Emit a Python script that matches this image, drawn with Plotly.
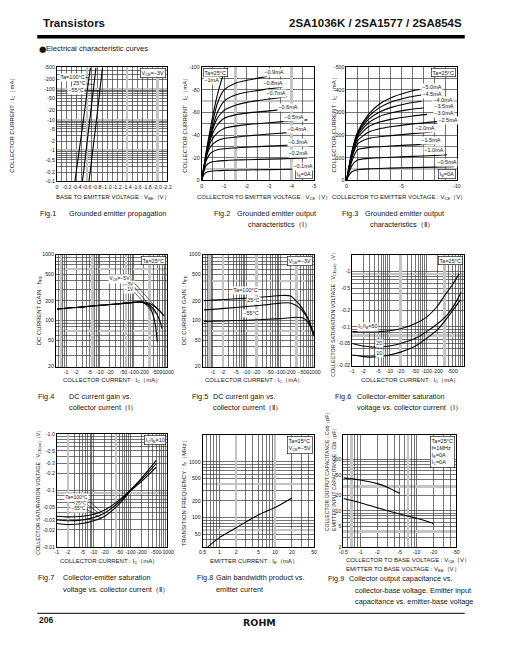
import math
import plotly.graph_objects as go

W, H = 505, 649
FONT = "Liberation Sans"
INK = "#151515"
GRID = "#3a3a3a"
GRAY = "#c4c4c4"

# ---------------- data (magnitudes; minus signs live in tick text) ----------------
# Fig.1 grounded emitter propagation
fig1_ic = [0.1, 1, 10, 100, 500]
fig1_vbe_100 = [0.36, 0.45, 0.53, 0.61, 0.67]
fig1_vbe_25 = [0.51, 0.58, 0.66, 0.73, 0.78]
fig1_vbe_m55 = [0.64, 0.72, 0.79, 0.86, 0.91]
fig1_x_vals = [0, 0.2, 0.4, 0.6, 0.8, 1.0, 1.2, 1.4, 1.6, 1.8, 2.0, 2.2]
fig1_x_text = ["0", "-0.2", "-0.4", "-0.6", "-0.8", "-1.0", "-1.2", "-1.4", "-1.6", "-1.8", "-2.0", "-2.2"]
fig1_y_vals = [0.1, 0.2, 0.5, 1, 2, 5, 10, 20, 50, 100, 200, 500]
fig1_y_text = ["-0.1", "-0.2", "-0.5", "-1", "-2", "-5", "-10", "-20", "-50", "-100", "-200", "-500"]

# Fig.2 output characteristics (I)
fig2_vce_lo = [0, 0.1, 0.2, 0.4, 0.7, 1.0, 1.5, 2.0, 3.0, 4.0, 4.7]
fig2_ic_b01 = [0, 5, 7, 8, 8.5, 8.8, 9, 9.2, 9.5, 9.8, 10]
fig2_ic_b02 = [0, 8, 13, 16, 17, 17.5, 18, 18.3, 18.8, 19.3, 19.8]
fig2_ic_b03 = [0, 9, 17, 24, 27, 28, 28.7, 29.3, 30.3, 31.3, 32]
fig2_ic_b04 = [0, 10, 20, 30, 35, 37, 38.3, 39.3, 41, 42.5, 43.5]
fig2_ic_b05 = [0, 10, 21, 34, 42, 46, 48, 49.3, 51, 52.5, 53.5]
fig2_vce_b06 = [0, 0.1, 0.2, 0.4, 0.7, 1.0, 1.5, 2.0, 3.0, 4.3]
fig2_ic_b06 = [0, 11, 22, 37, 49, 55, 58, 59.5, 61.5, 64]
fig2_vce_b07 = [0, 0.1, 0.2, 0.4, 0.7, 1.0, 1.5, 2.0, 3.0, 3.8]
fig2_ic_b07 = [0, 11, 22, 39, 55, 62, 66.5, 69, 72, 74]
fig2_vce_b08 = [0, 0.1, 0.2, 0.4, 0.7, 1.0, 1.5, 2.0, 3.0, 3.6]
fig2_ic_b08 = [0, 11, 22, 40, 60, 70, 75.5, 78, 81, 82.5]
fig2_vce_b09 = [0, 0.1, 0.2, 0.4, 0.7, 1.0, 1.5, 2.0, 2.5, 2.9]
fig2_ic_b09 = [0, 11, 23, 43, 68, 80, 86, 88.5, 90.5, 92]
fig2_vce_b10 = [0, 0.1, 0.2, 0.4, 0.6, 0.8, 1.0, 1.2]
fig2_ic_b10 = [0, 12, 25, 47, 67, 83, 95, 101]
fig2_x_vals = [0, 1, 2, 3, 4, 5]
fig2_x_text = ["0", "-1", "-2", "-3", "-4", "-5"]
fig2_y_vals = [0, 20, 40, 60, 80, 100]
fig2_y_text = ["0", "-20", "-40", "-60", "-80", "-100"]
fig2_labels = ["−0.9mA", "−1mA", "−0.8mA", "−0.7mA", "−0.6mA", "−0.5mA",
               "−0.4mA", "−0.3mA", "−0.2mA", "−0.1mA"]

# Fig.3 output characteristics (II)
fig3_vce_05 = [0, 0.2, 0.5, 1, 2, 4, 6, 8, 9.7]
fig3_ic_05 = [0, 20, 38, 47, 51, 54, 56.5, 58.5, 60]
fig3_vce_10 = [0, 0.2, 0.5, 1, 2, 4, 6, 8, 9.1]
fig3_ic_10 = [0, 30, 65, 90, 97, 102, 106, 110, 113]
fig3_vce_15 = [0, 0.2, 0.5, 1, 2, 4, 6, 8, 8.4]
fig3_ic_15 = [0, 35, 85, 135, 145, 152, 157, 162, 164]
fig3_vce_20 = [0, 0.2, 0.5, 1, 2, 4, 6, 7.8]
fig3_ic_20 = [0, 40, 100, 160, 185, 198, 207, 214]
fig3_vce_25 = [0, 0.2, 0.5, 1, 2, 3, 4, 6, 8.2]
fig3_ic_25 = [0, 42, 108, 175, 213, 228, 237, 250, 260]
fig3_vce_30 = [0, 0.2, 0.5, 1, 2, 3, 4, 6, 7.3]
fig3_ic_30 = [0, 45, 114, 188, 237, 258, 270, 285, 292]
fig3_vce_35 = [0, 0.2, 0.5, 1, 2, 3, 4, 5.5, 7.0]
fig3_ic_35 = [0, 46, 118, 196, 255, 283, 298, 312, 320]
fig3_vce_40 = [0, 0.2, 0.5, 1, 2, 3, 4, 5.5, 6.8]
fig3_ic_40 = [0, 48, 122, 203, 270, 303, 322, 340, 350]
fig3_vce_45 = [0, 0.2, 0.5, 1, 2, 3, 4, 5.5, 6.8]
fig3_ic_45 = [0, 49, 125, 208, 282, 322, 346, 367, 378]
fig3_vce_50 = [0, 0.2, 0.5, 1, 2, 3, 4, 5.5, 6.6]
fig3_ic_50 = [0, 50, 128, 212, 292, 338, 365, 390, 402]
fig3_x_vals = [0, 5, 10]
fig3_x_text = ["0", "-5", "-10"]
fig3_y_vals = [0, 100, 200, 300, 400, 500]
fig3_y_text = ["0", "-100", "-200", "-300", "-400", "-500"]
fig3_labels = ["−5.0mA", "−4.5mA", "−4.0mA", "−3.5mA", "−3.0mA", "−2.5mA",
               "−2.0mA", "−1.5mA", "−1.0mA", "−0.5mA"]

# Fig.4 DC current gain (I)
fig4_ic_5v = [0.55, 1, 2, 5, 10, 20, 50, 100, 150, 200, 300, 400, 600, 800]
fig4_hfe_5v = [150, 154, 158, 165, 170, 175, 182, 189, 192, 191, 182, 168, 140, 117]
fig4_ic_3v = [0.55, 1, 2, 5, 10, 20, 50, 100, 150, 200, 300, 400, 500, 600, 700]
fig4_hfe_3v = [150, 154, 158, 165, 170, 175, 182, 189, 192, 188, 172, 148, 122, 98, 75]
fig4_ic_1v = [0.55, 1, 2, 5, 10, 20, 50, 100, 150, 200, 300, 400, 450, 500]
fig4_hfe_1v = [150, 154, 158, 165, 170, 175, 182, 189, 191, 185, 160, 110, 80, 48]

# Fig.5 DC current gain (II)
fig5_ic_100 = [0.55, 1, 5, 10, 50, 100, 200, 350, 500, 700, 970]
fig5_hfe_100 = [200, 204, 214, 219, 232, 240, 236, 180, 140, 100, 58]
fig5_ic_25 = [0.55, 1, 5, 10, 50, 100, 200, 350, 500, 700, 970]
fig5_hfe_25 = [145, 148, 158, 163, 176, 184, 185, 160, 132, 100, 62]
fig5_ic_m55 = [0.55, 1, 10, 100, 300, 450, 600, 800, 960]
fig5_hfe_m55 = [97, 98, 101, 107, 112, 110, 100, 80, 65]

gain_x_vals = [1, 2, 5, 10, 20, 50, 100, 200, 500, 1000]
gain_x_text = ["-1", "-2", "-5", "-10", "-20", "-50", "-100", "-200", "-500", "-1000"]
gain_y_vals = [20, 50, 100, 200, 500, 1000]
gain_y_text = ["20", "50", "100", "200", "500", "1000"]

# Fig.6 Vce(sat) vs Ic (I)
fig6_ic_50 = [1, 2, 5, 10, 20, 50, 100, 200, 300, 500, 750]
fig6_v_50 = [0.082, 0.081, 0.082, 0.085, 0.092, 0.115, 0.15, 0.24, 0.36, 0.58, 0.9]
fig6_ic_20 = [1, 2, 4, 10, 20, 50, 100, 200, 360, 600, 850]
fig6_v_20 = [0.05, 0.045, 0.043, 0.045, 0.05, 0.062, 0.082, 0.115, 0.165, 0.27, 0.42]
fig6_ic_10 = [1, 2, 3, 5, 10, 20, 50, 100, 200, 400, 820]
fig6_v_10 = [0.031, 0.029, 0.0285, 0.029, 0.031, 0.035, 0.045, 0.062, 0.09, 0.16, 0.31]
fig6_x_vals = [1, 2, 5, 10, 20, 50, 100, 200, 500]
fig6_x_text = ["-1", "-2", "-5", "-10", "-20", "-50", "-100", "-200", "-500"]
fig6_y_vals = [0.02, 0.05, 0.1, 0.2, 0.5, 1]
fig6_y_text = ["-0.02", "-0.05", "-0.1", "-0.2", "-0.5", "-1"]

# Fig.7 Vce(sat) vs Ic (II)
fig7_ic = [1, 2, 5, 10, 20, 50, 100, 200, 500]
fig7_v_100 = [0.035, 0.034, 0.035, 0.038, 0.045, 0.068, 0.102, 0.165, 0.34]
fig7_v_25 = [0.030, 0.029, 0.030, 0.033, 0.040, 0.063, 0.100, 0.155, 0.30]
fig7_v_m55 = [0.026, 0.025, 0.026, 0.029, 0.035, 0.058, 0.098, 0.145, 0.26]
fig7_x_vals = [1, 2, 5, 10, 20, 50, 100, 200, 500, 1000]
fig7_x_text = ["-1", "-2", "-5", "-10", "-20", "-50", "-100", "-200", "-500", "-1000"]
fig7_y_vals = [0.01, 0.02, 0.03, 0.05, 0.1, 0.2, 0.3, 0.5, 1]
fig7_y_text = ["-0.01", "-0.02", "-0.03", "-0.05", "-0.1", "-0.2", "-0.3", "-0.5", "-1.0"]

# Fig.8 gain bandwidth product
fig8_ie = [0.62, 1, 2, 5, 10, 20]
fig8_ft = [30, 44, 66, 112, 152, 225]
fig8_x_vals = [0.5, 1, 2, 5, 10, 20, 50]
fig8_x_text = ["0.5", "1", "2", "5", "10", "20", "50"]
fig8_y_vals = [50, 100, 200, 500, 1000]
fig8_y_text = ["50", "100", "200", "500", "1000"]

# Fig.9 capacitances
fig9_veb = [0.5, 1, 2, 3, 5]
fig9_cib = [44, 40, 34, 29, 22]
fig9_vcb = [0.5, 1, 2, 5, 10, 20]
fig9_cob = [17.5, 14.5, 11.5, 8.7, 7.2, 5.7]
fig9_x_vals = [0.5, 1, 2, 5, 10, 20, 50]
fig9_x_text = ["-0.5", "-1", "-2", "-5", "-10", "-20", "-50"]
fig9_y_vals = [2, 5, 10, 20, 50, 100]
fig9_y_text = ["2", "5", "10", "20", "50", "100"]


# ---------------- helpers ----------------
def lin_grid(a, b, step):
    n = int(round((b - a) / step))
    return [round(a + i * step, 6) for i in range(n + 1)]


def log_grid(lo, hi):
    out = []
    e = math.floor(math.log10(lo) + 1e-9)
    while 10 ** e <= hi * 1.0001:
        for m in range(1, 10):
            v = float(f"{m * 10 ** e:.6g}")
            if lo * 0.9999 <= v <= hi * 1.0001:
                out.append(v)
        e += 1
    return out


def xn(k):
    return "x" if k == 1 else f"x{k}"


def yn(k):
    return "y" if k == 1 else f"y{k}"


def xkey(k):
    return "xaxis" if k == 1 else f"xaxis{k}"


def ykey(k):
    return "yaxis" if k == 1 else f"yaxis{k}"


PANELS = {
    1: dict(box=(54, 65, 167, 180), xt="linear", yt="log", xr=(0, 2.2), yr=(0.1, 500),
            xg=lin_grid(0, 2.2, 0.1), yg=log_grid(0.1, 500), xgray=[0.6, 1.4, 2.0], ygray=[1, 10, 100],
            xl=(fig1_x_vals, fig1_x_text), yl=(fig1_y_vals, fig1_y_text)),
    2: dict(box=(202, 65, 317, 179), xt="linear", yt="linear", xr=(0, 5), yr=(0, 100),
            xg=lin_grid(0, 5, 0.5), yg=lin_grid(0, 100, 10), xgray=[1.5, 4.0], ygray=[10, 70],
            xl=(fig2_x_vals, fig2_x_text), yl=(fig2_y_vals, fig2_y_text)),
    3: dict(box=(350, 65, 463, 179), xt="linear", yt="linear", xr=(0, 10), yr=(0, 500),
            xg=lin_grid(0, 10, 1), yg=lin_grid(0, 500, 50), xgray=[], ygray=[50, 350],
            xl=(fig3_x_vals, fig3_x_text), yl=(fig3_y_vals, fig3_y_text)),
    4: dict(box=(53, 254, 167, 367), xt="log", yt="log", xr=(0.5, 1000), yr=(20, 1000),
            xg=log_grid(0.5, 1000), yg=log_grid(20, 1000), xgray=[0.7, 6, 60, 300], ygray=[70, 600],
            xl=(gain_x_vals, gain_x_text), yl=(gain_y_vals, gain_y_text)),
    5: dict(box=(203, 254, 317, 367), xt="log", yt="log", xr=(0.5, 1000), yr=(20, 1000),
            xg=log_grid(0.5, 1000), yg=log_grid(20, 1000), xgray=[0.8, 2, 20, 300], ygray=[70, 400],
            xl=(gain_x_vals, gain_x_text), yl=(gain_y_vals, gain_y_text)),
    6: dict(box=(356, 254, 470, 366), xt="log", yt="log", xr=(1, 1000), yr=(0.02, 2),
            xg=log_grid(1, 1000), yg=log_grid(0.02, 1), xgray=[20, 300], ygray=[0.07, 0.9],
            xl=(fig6_x_vals, fig6_x_text), yl=(fig6_y_vals, fig6_y_text)),
    7: dict(box=(54, 435, 167, 549), xt="log", yt="log", xr=(1, 1000), yr=(0.01, 1),
            xg=log_grid(1, 1000), yg=log_grid(0.01, 1), xgray=[2, 40], ygray=[0.09],
            xl=(fig7_x_vals, fig7_x_text), yl=(fig7_y_vals, fig7_y_text)),
    8: dict(box=(203, 436, 317, 549), xt="log", yt="log", xr=(0.5, 50), yr=(30, 3000),
            xg=log_grid(0.5, 50), yg=log_grid(30, 1000), xgray=[2, 10], ygray=[60, 400],
            xl=(fig8_x_vals, fig8_x_text), yl=(fig8_y_vals, fig8_y_text)),
    9: dict(box=(347, 436, 462, 549), xt="log", yt="log", xr=(0.5, 50), yr=(2, 300),
            xg=log_grid(0.5, 50), yg=log_grid(2, 100), xgray=[0.7, 7], ygray=[4, 30],
            xl=(fig9_x_vals, fig9_x_text), yl=(fig9_y_vals, fig9_y_text)),
}


def rng(p, ax):
    lo, hi = p[ax + "r"]
    if p[ax + "t"] == "log":
        return [math.log10(lo), math.log10(hi)]
    return [lo, hi]


def key(v):
    return round(v, 9)


fig = go.Figure()
layout = dict(width=W, height=H, margin=dict(l=0, r=0, t=0, b=0), autosize=False,
              paper_bgcolor="white", plot_bgcolor="white", showlegend=False,
              font=dict(family=FONT, color=INK, size=6))

tickfont = dict(family=FONT, size=5.2, color=INK)

for k, p in PANELS.items():
    l, t, r, b = p["box"]
    xdom = [l / W, r / W]
    ydom = [1 - b / H, 1 - t / H]
    common = dict(tickmode="array", ticks="", tickangle=0, showgrid=True, gridcolor=GRID,
                  gridwidth=0.7, zeroline=False, showline=True, mirror=True, linecolor="black",
                  linewidth=1, tickfont=tickfont, fixedrange=True)
    # base axes: labelled positions
    layout[xkey(k)] = dict(domain=xdom, type=p["xt"], range=rng(p, "x"), anchor=yn(k),
                           tickvals=p["xl"][0], ticktext=p["xl"][1], **common)
    layout[ykey(k)] = dict(domain=ydom, type=p["yt"], range=rng(p, "y"), anchor=xn(k),
                           tickvals=p["yl"][0], ticktext=p["yl"][1], **common)
    # gray highlight grid lines (overlay axes)
    gx, gy = 9 + k, 18 + k
    gcommon = dict(tickmode="array", showticklabels=False, ticks="", showgrid=True,
                   gridcolor=GRAY, gridwidth=2.4, zeroline=False, showline=False, fixedrange=True)
    layout[xkey(gx)] = dict(type=p["xt"], range=rng(p, "x"), overlaying=xn(k), anchor=yn(k),
                            tickvals=p["xgray"], **gcommon)
    layout[ykey(gy)] = dict(type=p["yt"], range=rng(p, "y"), overlaying=yn(k), anchor=xn(k),
                            tickvals=p["ygray"], **gcommon)
    fig.add_trace(go.Scatter(x=[], y=[], xaxis=xn(gx), yaxis=yn(k), hoverinfo="skip"))
    fig.add_trace(go.Scatter(x=[], y=[], xaxis=xn(k), yaxis=yn(gy), hoverinfo="skip"))
    # remaining black grid lines (unlabelled, not gray)
    skip_x = {key(v) for v in p["xl"][0]} | {key(v) for v in p["xgray"]}
    skip_y = {key(v) for v in p["yl"][0]} | {key(v) for v in p["ygray"]}
    bx_vals = [v for v in p["xg"] if key(v) not in skip_x]
    by_vals = [v for v in p["yg"] if key(v) not in skip_y]
    bx, by = 27 + k, 36 + k
    bcommon = dict(tickmode="array", showticklabels=False, ticks="", showgrid=True,
                   gridcolor=GRID, gridwidth=0.7, zeroline=False, showline=False, fixedrange=True)
    layout[xkey(bx)] = dict(type=p["xt"], range=rng(p, "x"), overlaying=xn(k), anchor=yn(k),
                            tickvals=bx_vals, **bcommon)
    layout[ykey(by)] = dict(type=p["yt"], range=rng(p, "y"), overlaying=yn(k), anchor=xn(k),
                            tickvals=by_vals, **bcommon)
    fig.add_trace(go.Scatter(x=[], y=[], xaxis=xn(bx), yaxis=yn(k), hoverinfo="skip"))
    fig.add_trace(go.Scatter(x=[], y=[], xaxis=xn(k), yaxis=yn(by), hoverinfo="skip"))


def curve(k, xs, ys, spline=True):
    line = dict(color="black", width=1.1)
    if spline:
        line.update(shape="spline", smoothing=0.7)
    fig.add_trace(go.Scatter(x=xs, y=ys, mode="lines", line=line, xaxis=xn(k), yaxis=yn(k),
                             hoverinfo="skip"))


# Fig.1
curve(1, fig1_vbe_100, fig1_ic, spline=False)
curve(1, fig1_vbe_25, fig1_ic, spline=False)
curve(1, fig1_vbe_m55, fig1_ic, spline=False)
# Fig.2
for ic in [fig2_ic_b01, fig2_ic_b02, fig2_ic_b03, fig2_ic_b04, fig2_ic_b05]:
    curve(2, fig2_vce_lo, ic)
curve(2, fig2_vce_b06, fig2_ic_b06)
curve(2, fig2_vce_b07, fig2_ic_b07)
curve(2, fig2_vce_b08, fig2_ic_b08)
curve(2, fig2_vce_b09, fig2_ic_b09)
curve(2, fig2_vce_b10, fig2_ic_b10)
# Fig.3
for vx, iy in [(fig3_vce_05, fig3_ic_05), (fig3_vce_10, fig3_ic_10), (fig3_vce_15, fig3_ic_15),
               (fig3_vce_20, fig3_ic_20), (fig3_vce_25, fig3_ic_25), (fig3_vce_30, fig3_ic_30),
               (fig3_vce_35, fig3_ic_35), (fig3_vce_40, fig3_ic_40), (fig3_vce_45, fig3_ic_45),
               (fig3_vce_50, fig3_ic_50)]:
    curve(3, vx, iy)
# Fig.4
curve(4, fig4_ic_5v, fig4_hfe_5v)
curve(4, fig4_ic_3v, fig4_hfe_3v)
curve(4, fig4_ic_1v, fig4_hfe_1v)
# Fig.5
curve(5, fig5_ic_100, fig5_hfe_100)
curve(5, fig5_ic_25, fig5_hfe_25)
curve(5, fig5_ic_m55, fig5_hfe_m55)
# Fig.6
curve(6, fig6_ic_50, fig6_v_50)
curve(6, fig6_ic_20, fig6_v_20)
curve(6, fig6_ic_10, fig6_v_10)
# Fig.7
curve(7, fig7_ic, fig7_v_100)
curve(7, fig7_ic, fig7_v_25)
curve(7, fig7_ic, fig7_v_m55)
# Fig.8
curve(8, fig8_ie, fig8_ft)
# Fig.9
curve(9, fig9_veb, fig9_cib)
curve(9, fig9_vcb, fig9_cob)

# ---------------- annotations ----------------
ann = []
shapes = []


def txt(px, py, s, size=5.5, xa="center", ya="middle", bg=None, border=False, angle=0,
        align="left", family=FONT):
    a = dict(x=px / W, y=1 - py / H, xref="paper", yref="paper", text=s, showarrow=False,
             xanchor=xa, yanchor=ya, textangle=angle, align=align,
             font=dict(family=family, size=size, color=INK))
    if bg:
        a["bgcolor"] = bg
        a["borderpad"] = 0.3
    if border:
        a["bgcolor"] = "white"
        a["bordercolor"] = "black"
        a["borderwidth"] = 0.6
        a["borderpad"] = 1
    ann.append(a)


def to_px(k, xv, yv):
    p = PANELS[k]
    l, t, r, b = p["box"]
    xr, yr = rng(p, "x"), rng(p, "y")
    xx = math.log10(xv) if p["xt"] == "log" else xv
    yy = math.log10(yv) if p["yt"] == "log" else yv
    px = l + (xx - xr[0]) / (xr[1] - xr[0]) * (r - l)
    py = b - (yy - yr[0]) / (yr[1] - yr[0]) * (b - t)
    return px, py


def leader(k, xv, yv, tail_px, tail_py):
    px, py = to_px(k, xv, yv)
    shapes.append(dict(type="line", xref="paper", yref="paper", x0=tail_px / W, y0=1 - tail_py / H,
                       x1=px / W, y1=1 - py / H, line=dict(color="black", width=0.6)))


# header / footer
txt(38, 20.5, "<b>Transistors</b>", size=11.5, xa="left")
txt(470, 20.5, "<b>2SA1036K / 2SA1577 / 2SA854S</b>", size=11.5, xa="right")
txt(33.5, 46, "●", size=8.5, xa="left", family="DejaVu Sans")
txt(41, 46, "Electrical characteristic curves", size=7.6, xa="left")
txt(34, 623, "<b>206</b>", size=8.5, xa="left")
txt(261, 625, "<b>ROHM</b>", size=9.5, family="DejaVu Sans")

# axis titles
T = 6
IC = "COLLECTOR CURRENT : I<sub>C</sub>（mA）"
VCE = "COLLECTOR TO EMITTER VOLTAGE : V<sub>CE</sub>（V）"
HFE = "DC CURRENT GAIN : h<sub>FE</sub>"
VSAT = "COLLECTOR SATURATION VOLTAGE : V<sub>CE(sat)</sub>（V）"
for px in (9, 186, 338):
    txt(px, 122, IC, size=T, angle=-90)
txt(111, 196, "BASE TO EMITTER VOLTAGE : V<sub>BE</sub>（V）", size=T)
txt(266, 196, VCE, size=T)
txt(404, 196, VCE, size=T)
txt(36, 310, HFE, size=T, angle=-90)
txt(184, 310, HFE, size=T, angle=-90)
txt(336, 313, VSAT, size=5.3, angle=-90)
txt(110, 381, IC, size=T)
txt(256, 381, IC, size=T)
txt(415, 381, IC, size=T)
txt(35, 493, VSAT, size=5.3, angle=-90)
txt(184, 493, "TRANSITION FREQUENCY : f<sub>T</sub>（MHz）", size=T, angle=-90)
txt(330.5, 535, "COLLECTOR OUTPUT CAPACITANCE : Cob（pF）", size=5.2, angle=-90, ya="bottom")
txt(336.8, 535, "EMITTER INPUT CAPACITANCE : Cib（pF）", size=5.2, angle=-90, ya="bottom")
txt(107, 564, IC, size=T)
txt(256, 564, "EMITTER CURRENT : I<sub>E</sub>（mA）", size=T)
txt(348, 563, "COLLECTOR TO BASE VOLTAGE : V<sub>CB</sub>（V）", size=T, xa="left")
txt(348, 572, "EMITTER TO BASE VOLTAGE : V<sub>EB</sub>（V）", size=T, xa="left")

# captions
C = 7.3
caps = [
    (35, 64, 212, 0, ["Grounded emitter propagation"]),
    (213, 236, 212, 11, ["Grounded emitter output", "characteristics（Ⅰ）"]),
    (343, 367, 212, 5, ["Grounded emitter output", "characteristics（Ⅱ）"]),
    (33, 64, 397, 0, ["DC current gain vs.", "collector current（Ⅰ）"]),
    (190, 212, 397, 0, ["DC current gain vs.", "collector current（Ⅱ）"]),
    (336, 359, 397, 0, ["Collector-emitter saturation", "voltage vs. collector current（Ⅰ）"]),
    (33, 58, 580, 0, ["Collector-emitter saturation", "voltage vs. collector current（Ⅱ）"]),
    (195, 215, 580, 0, ["Gain bandwidth product vs.", "emitter current"]),
    (329, 351, 581, 6, ["Collector output capacitance vs.", "collector-base voltage. Emitter input",
                        "capacitance vs. emitter-base voltage"]),
]
for i, (fx, bx, by, indent, lines) in enumerate(caps):
    txt(fx, by, f"Fig.{i + 1}", size=C, xa="left")
    for j, s in enumerate(lines):
        txt(bx + (indent if j > 0 else 0), by + 11.5 * j, s, size=C, xa="left")

# in-plot labels
S = 5.5
# Fig.1
txt(166, 66, "V<sub>CE</sub>=−3V", size=S, xa="right", ya="top", border=True)
txt(70, 75, "Ta=100°C", size=S, bg="white")
txt(77, 81.5, "25°C", size=S, bg="white")
txt(73.5, 88, "−55°C", size=S, bg="white")
leader(1, 0.641, 230, 82, 75)
leader(1, 0.7405, 140, 82, 81.5)
leader(1, 0.855, 85, 82, 88)
# Fig.2
txt(203, 66, "Ta=25°C", size=S, xa="left", ya="top", border=True)
txt(316, 178, "I<sub>B</sub>=0A", size=S, xa="right", ya="bottom", border=True)
fig2_pos = [(276.5, 70.3), (212.5, 78.7), (275, 81.3), (278.5, 91.3), (290, 105.7), (296, 115.7),
            (300, 128), (300.5, 140.3), (301, 152.3), (306, 164.7)]
for s, (px, py) in zip(fig2_labels, fig2_pos):
    txt(px, py, s, size=S, bg="white")
# Fig.3
txt(462, 66, "Ta=25°C", size=S, xa="right", ya="top", border=True)
txt(462, 178, "I<sub>B</sub>=0A", size=S, xa="right", ya="bottom", border=True)
fig3_pos = [(438, 85.3), (437.5, 92), (449, 98), (449.5, 104.7), (449.5, 111.3), (453.5, 119),
            (430, 127), (436, 138.7), (439.5, 148.7), (452.5, 161.3)]
for s, (px, py) in zip(fig3_labels, fig3_pos):
    txt(px, py, s, size=S, bg="white")
# Fig.4
txt(166, 255, "Ta=25°C", size=S, xa="right", ya="top", border=True)
txt(118, 278.6, "V<sub>CE</sub>=−5V", size=5, bg="white")
txt(127.5, 284.2, "−3V", size=5, bg="white")
txt(127.5, 289.6, "−1V", size=5, bg="white")
leader(4, 770, 118, 130, 279)
leader(4, 450, 128, 131.5, 284.4)
leader(4, 330, 140, 131.5, 289.8)
# Fig.5
txt(316, 255, "V<sub>CE</sub>=−3V", size=S, xa="right", ya="top", border=True)
txt(246.5, 290, "Ta=100°C", size=S, bg="white")
txt(255, 300.5, "25°C", size=S, bg="white")
txt(252.5, 313.5, "−55°C", size=S, bg="white")
# Fig.6
txt(469, 255, "Ta=25°C", size=S, xa="right", ya="top", border=True)
txt(372.5, 327, "I<sub>C</sub>/I<sub>B</sub>=50", size=S, bg="white")
txt(383.5, 343.5, "20", size=S, bg="white")
txt(383.5, 353.5, "10", size=S, bg="white")
# Fig.7
txt(166, 436, "I<sub>C</sub>/I<sub>B</sub>=10", size=S, xa="right", ya="top", border=True)
txt(74, 499.5, "Ta=100°C", size=5, bg="white")
txt(79, 505, "25°C", size=5, bg="white")
txt(76.5, 510.5, "−55°C", size=5, bg="white")
leader(7, 16, 0.042, 83.5, 499.5)
leader(7, 16, 0.037, 83.5, 505)
leader(7, 16, 0.032, 83.5, 510.5)
# Fig.8
txt(316, 437, "Ta=25°C<br>V<sub>CE</sub>=−5V", size=S, xa="right", ya="top", border=True)
# Fig.9
txt(461, 437, "Ta=25°C<br>f=1MHz<br>I<sub>E</sub>=0A<br>I<sub>C</sub>=0A", size=S, xa="right",
    ya="top", border=True)

shapes += [
    dict(type="line", xref="paper", yref="paper", x0=34 / W, x1=471 / W, y0=1 - 34 / H,
         y1=1 - 34 / H, line=dict(color="black", width=3.4)),
    dict(type="line", xref="paper", yref="paper", x0=34 / W, x1=471 / W, y0=1 - 616 / H,
         y1=1 - 616 / H, line=dict(color="black", width=1)),
]
layout["annotations"] = ann
layout["shapes"] = shapes

fig.update_layout(**layout)
fig.write_html("out.html", config={"displayModeBar": False, "staticPlot": True},
               post_script="document.body.style.margin='0px';document.body.style.overflow='hidden';")
